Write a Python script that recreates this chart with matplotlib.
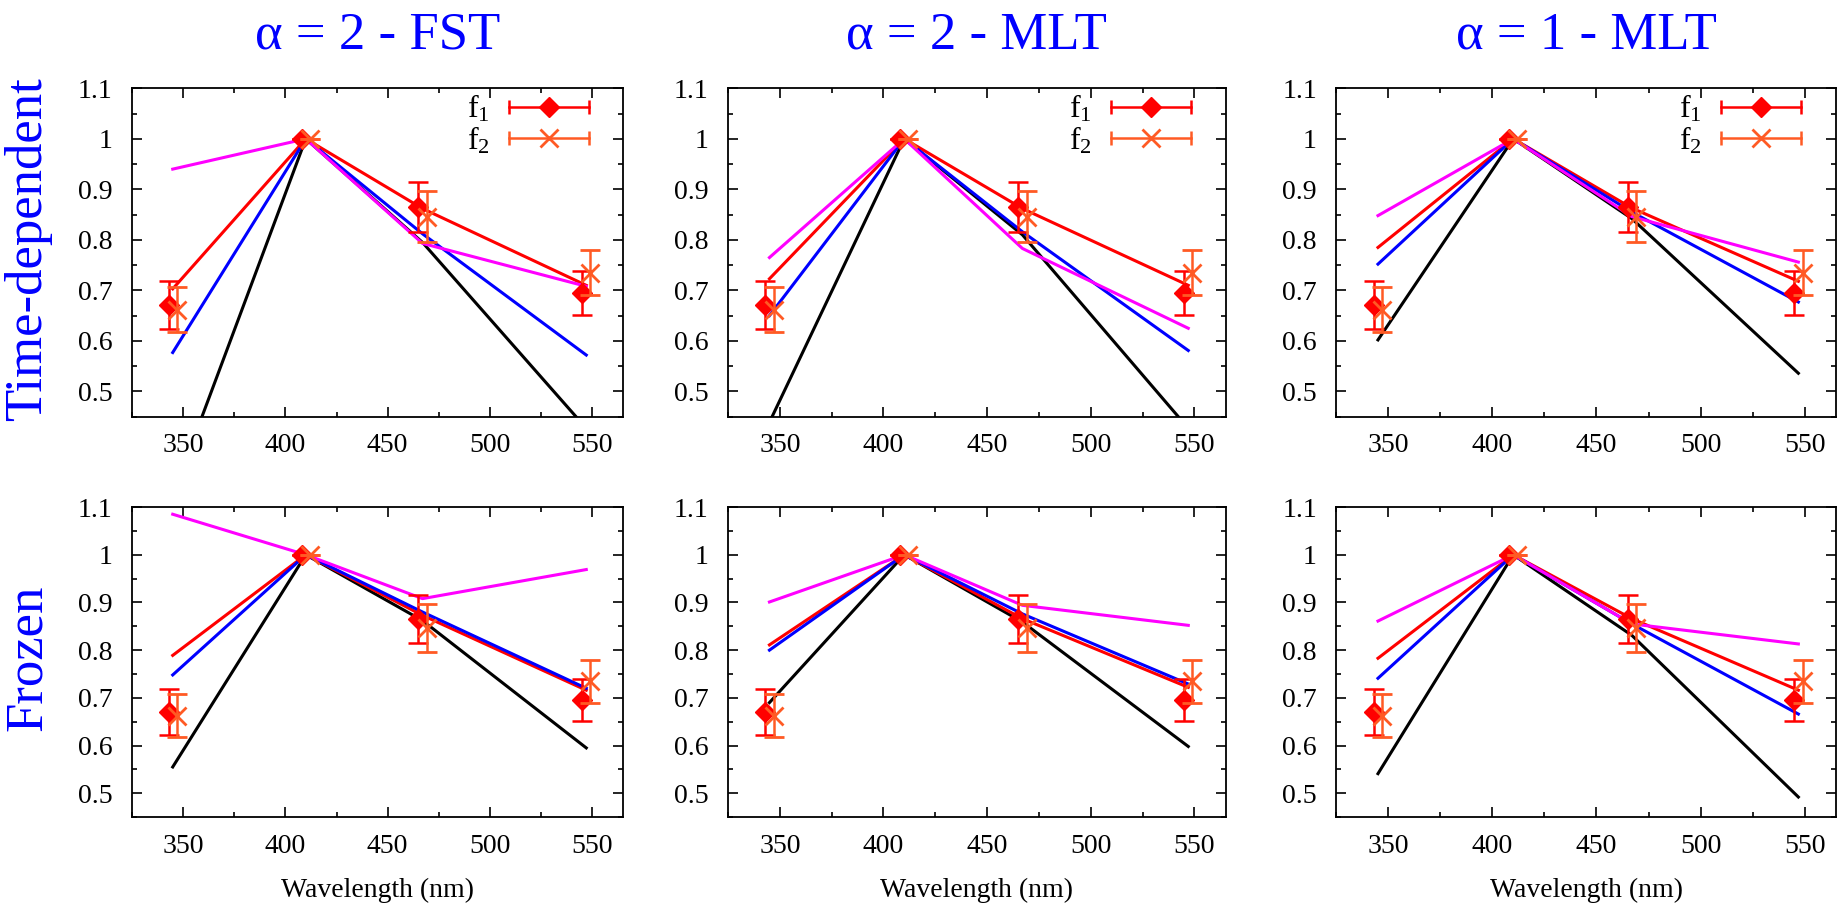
import numpy as np
import matplotlib
matplotlib.use("Agg")
import matplotlib.pyplot as plt
from matplotlib.lines import Line2D
from matplotlib.legend_handler import HandlerBase
from matplotlib.ticker import MultipleLocator, FuncFormatter

plt.rcParams["font.family"] = ["Liberation Serif", "DejaVu Serif"]
plt.rcParams["mathtext.fontset"] = "custom"
plt.rcParams["mathtext.rm"] = "Liberation Serif"
plt.rcParams["mathtext.it"] = "Liberation Serif:italic"

# ---------------------------------------------------------------- data
col_titles = ["α = 2 - FST", "α = 2 - MLT", "α = 1 - MLT"]
row_titles = ["Time-dependent", "Frozen"]

model_wl = [345, 410, 467, 547]
f1_wl = [343, 408, 465, 545]
f2_wl = [347, 412, 469, 549]

f1_val = [0.671, 1.0, 0.865, 0.695]
f1_err = [0.048, 0.0, 0.050, 0.044]
f2_val = [0.662, 1.0, 0.846, 0.735]
f2_err = [0.045, 0.0, 0.050, 0.045]

# model curves, one entry per column (FST a=2, MLT a=2, MLT a=1)
black_td = [[0.295, 1.0, 0.795, 0.427],
            [0.439, 1.0, 0.810, 0.427],
            [0.602, 1.0, 0.842, 0.536]]
blue_td = [[0.577, 1.0, 0.812, 0.572],
           [0.650, 1.0, 0.816, 0.581],
           [0.752, 1.0, 0.855, 0.677]]
red_td = [[0.703, 1.0, 0.862, 0.710],
          [0.723, 1.0, 0.862, 0.710],
          [0.785, 1.0, 0.863, 0.718]]
magenta_td = [[0.940, 1.0, 0.793, 0.708],
              [0.765, 1.0, 0.783, 0.625],
              [0.848, 1.0, 0.846, 0.756]]

black_fr = [[0.555, 1.0, 0.862, 0.595],
            [0.690, 1.0, 0.859, 0.598],
            [0.541, 1.0, 0.831, 0.492]]
blue_fr = [[0.748, 1.0, 0.880, 0.720],
           [0.800, 1.0, 0.876, 0.729],
           [0.741, 1.0, 0.855, 0.666]]
red_fr = [[0.789, 1.0, 0.873, 0.716],
          [0.811, 1.0, 0.866, 0.722],
          [0.783, 1.0, 0.866, 0.716]]
magenta_fr = [[1.085, 1.0, 0.908, 0.969],
              [0.901, 1.0, 0.894, 0.852],
              [0.861, 1.0, 0.855, 0.813]]

# ---------------------------------------------------------------- style
C_F1 = "#ff0000"
C_F2 = "#ff5a24"
FS = 20
LW = 2.2


class HandlerHErr(HandlerBase):
    """gnuplot-like key: horizontal bar with end caps and marker in the middle"""
    def create_artists(self, legend, orig, xd, yd, w, h, fs, trans):
        y = h / 2 - yd
        x0, x1 = -xd, w - xd
        c = orig.get_color()
        bar = Line2D([x0, x1], [y, y], color=c, lw=1.8)
        caps = Line2D([x0, x1], [y, y], ls="none", marker="|", ms=10,
                      mew=1.8, color=c)
        mk = Line2D([(x0 + x1) / 2], [y], ls="none", marker=orig.get_marker(),
                    ms=orig.get_markersize(), mew=orig.get_markeredgewidth(),
                    color=c)
        for a in (bar, caps, mk):
            a.set_transform(trans)
        return [bar, caps, mk]


fig = plt.figure(figsize=(18.43, 9.13), dpi=100)

lefts = [0.0715, 0.3950, 0.7251]
widths = [0.2666, 0.2700, 0.2710]
rows = [(0.5436, 0.3597), (0.1051, 0.3395)]

models = [(black_td, blue_td, red_td, magenta_td),
          (black_fr, blue_fr, red_fr, magenta_fr)]

for r, (bot, hgt) in enumerate(rows):
    blk, blu, red, mag = models[r]
    for c in range(3):
        ax = fig.add_axes([lefts[c], bot, widths[c], hgt])
        ax.plot(model_wl, blk[c], color="black", lw=LW)
        ax.plot(model_wl, red[c], color="#ff0000", lw=LW)
        ax.plot(model_wl, blu[c], color="#0000ff", lw=LW)
        ax.plot(model_wl, mag[c], color="#ff00ff", lw=LW)

        ax.errorbar(f1_wl, f1_val, yerr=f1_err, fmt="D", ms=10, color=C_F1,
                    ecolor=C_F1, elinewidth=1.8, capsize=7, capthick=1.8,
                    zorder=5)
        ax.errorbar(f2_wl, f2_val, yerr=f2_err, fmt="x", ms=13, mew=2.0,
                    color=C_F2, ecolor=C_F2, elinewidth=1.8, capsize=7,
                    capthick=1.8, zorder=6)

        ax.set_xlim(325, 565)
        ax.set_ylim(0.45, 1.1)
        ax.xaxis.set_major_locator(MultipleLocator(50))
        ax.xaxis.set_minor_locator(MultipleLocator(25))
        ax.yaxis.set_major_locator(MultipleLocator(0.1))
        ax.yaxis.set_minor_locator(MultipleLocator(0.05))
        ax.yaxis.set_major_formatter(FuncFormatter(lambda v, p: f"{v:g}"))
        ax.tick_params(which="both", direction="in", top=True, right=True,
                       labelsize=FS, width=1.2)
        ax.tick_params(which="major", length=7)
        ax.tick_params(which="minor", length=3.5)
        ax.tick_params(axis="x", pad=12)
        ax.tick_params(axis="y", pad=14)
        for s in ax.spines.values():
            s.set_linewidth(1.3)

        if r == 0:
            h1 = Line2D([], [], color=C_F1, marker="D", ms=10, mew=1)
            h2 = Line2D([], [], color=C_F2, marker="x", ms=13, mew=2.0)
            ax.legend([h1, h2], ["f$_1$", "f$_2$"], loc="upper right",
                      bbox_to_anchor=(0.93, 0.985), frameon=False,
                      markerfirst=False, fontsize=23, handlelength=2.5,
                      handletextpad=0.6, labelspacing=0.0, borderpad=0,
                      borderaxespad=0,
                      handler_map={Line2D: HandlerHErr()})
            fig.text(lefts[c] + widths[c] / 2, 0.961, col_titles[c],
                     color="#0000ff", fontsize=38, ha="center", va="center")
        else:
            ax.set_xlabel("Wavelength (nm)", fontsize=FS, labelpad=14)

fig.text(0.015, 0.727, row_titles[0], color="#0000ff", fontsize=38,
         rotation=90, ha="center", va="center")
fig.text(0.015, 0.280, row_titles[1], color="#0000ff", fontsize=38,
         rotation=90, ha="center", va="center")

fig.savefig("out.png", dpi=100)
